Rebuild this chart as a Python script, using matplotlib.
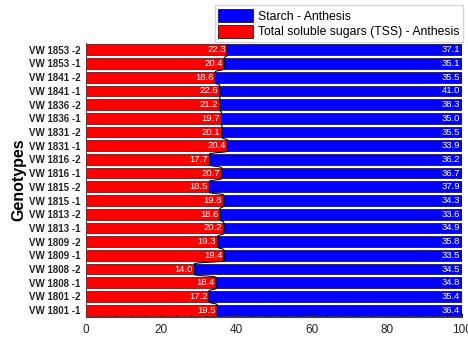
import numpy as np
import matplotlib.pyplot as plt
from matplotlib.path import Path
from matplotlib.patches import PathPatch, Patch
from matplotlib.ticker import MultipleLocator

plt.rcParams['font.family'] = ['Liberation Sans', 'DejaVu Sans']

# genotypes listed from the bottom bar upwards
genotypes = ['VW 1801 -1', 'VW 1801 -2', 'VW 1808 -1', 'VW 1808 -2',
             'VW 1809 -1', 'VW 1809 -2', 'VW 1813 -1', 'VW 1813 -2',
             'VW 1815 -1', 'VW 1815 -2', 'VW 1816 -1', 'VW 1816 -2',
             'VW 1831 -1', 'VW 1831 -2', 'VW 1836 -1', 'VW 1836 -2',
             'VW 1841 -1', 'VW 1841 -2', 'VW 1853 -1', 'VW 1853 -2']
tss = [19.5, 17.2, 18.4, 14.0, 19.4, 19.3, 20.2, 18.6, 19.8, 18.5,
       20.7, 17.7, 20.4, 20.1, 19.7, 21.2, 22.6, 18.6, 20.4, 22.3]
starch = [36.4, 35.4, 34.8, 34.5, 33.5, 35.8, 34.9, 33.6, 34.3, 37.9,
          36.7, 36.2, 33.9, 35.5, 35.0, 38.3, 41.0, 35.5, 35.1, 37.1]

tss = np.array(tss)
starch = np.array(starch)
total = tss + starch
tss_pct = tss / total * 100
starch_pct = starch / total * 100
y = np.arange(len(genotypes))
h = 0.78

fig = plt.figure(figsize=(4.68, 3.38), dpi=100)
ax = fig.add_axes([0.184, 0.062, 0.803, 0.811])

ax.barh(y, tss_pct, height=h, color='#ff0000', edgecolor='#5a0000', linewidth=0.5)
ax.barh(y, starch_pct, left=tss_pct, height=h, color='#0000ff',
        edgecolor='#00004a', linewidth=0.5)

# smooth line along the boundary between the two segments
verts = [(tss_pct[0], y[0] - h / 2), (tss_pct[0], y[0] + h / 2)]
codes = [Path.MOVETO, Path.LINETO]
for i in range(1, len(y)):
    y0 = y[i - 1] + h / 2
    y1 = y[i] - h / 2
    ym = (y0 + y1) / 2
    verts += [(tss_pct[i - 1], ym), (tss_pct[i], ym), (tss_pct[i], y1),
              (tss_pct[i], y[i] + h / 2)]
    codes += [Path.CURVE4, Path.CURVE4, Path.CURVE4, Path.LINETO]
ax.add_patch(PathPatch(Path(verts, codes), facecolor='none',
                       edgecolor='black', linewidth=0.8, zorder=3))

for yi, r, v1, v2 in zip(y, tss_pct, tss, starch):
    ax.text(r - 0.4, yi, f'{v1:.1f}', color='white', fontsize=6.8,
            ha='right', va='center', zorder=4)
    ax.text(99.6, yi, f'{v2:.1f}', color='white', fontsize=6.8,
            ha='right', va='center', zorder=4)

ax.set_xlim(0, 100)
ax.set_ylim(-0.5, len(genotypes) - 0.5)
ax.set_yticks(y)
ax.set_yticklabels(genotypes, fontsize=7, fontweight='bold', color='#222222')
ax.xaxis.set_major_locator(MultipleLocator(20))
ax.xaxis.set_minor_locator(MultipleLocator(4))
ax.tick_params(axis='x', which='major', direction='in', length=3, labelsize=8.5,
               colors='#222222', pad=5)
ax.tick_params(axis='x', which='minor', direction='in', length=1.5)
ax.tick_params(axis='y', length=0, pad=4)
ax.spines['top'].set_visible(False)
ax.spines['right'].set_visible(False)
ax.spines['left'].set_color('#444444')
ax.spines['bottom'].set_color('#444444')
ax.set_ylabel('Genotypes', fontsize=11.5, fontweight='bold', labelpad=2)

handles = [Patch(facecolor='#0000ff', edgecolor='black', linewidth=0.5),
           Patch(facecolor='#ff0000', edgecolor='black', linewidth=0.5)]
fig.legend(handles, ['Starch - Anthesis', 'Total soluble sugars (TSS) - Anthesis'],
           loc='upper right', bbox_to_anchor=(0.99, 0.985), fontsize=8.8,
           frameon=True, fancybox=False, edgecolor='#cccccc', borderpad=0.3,
           handlelength=2.8, handleheight=1.35, handletextpad=0.45,
           labelspacing=0.15, borderaxespad=0)

fig.savefig('out.png', dpi=100)
